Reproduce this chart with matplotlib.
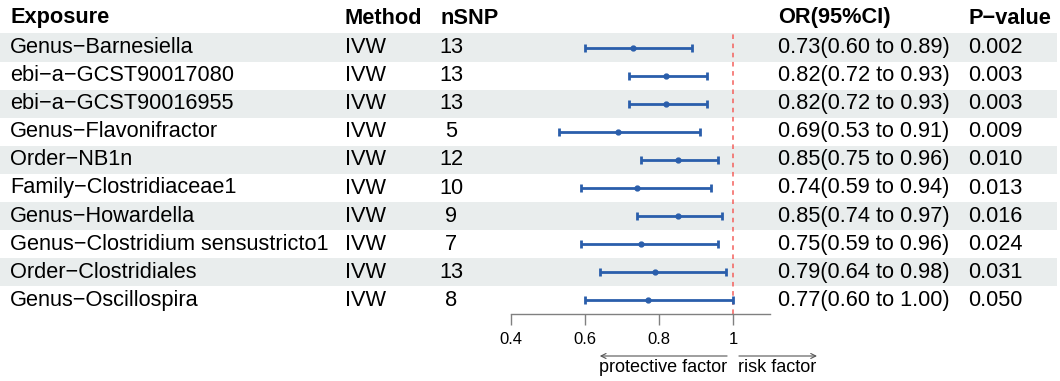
import numpy as np
import matplotlib.pyplot as plt
from matplotlib.patches import Rectangle

plt.rcParams['font.family'] = ['Liberation Sans', 'DejaVu Sans']

# Datos
exposure = ["Genus−Barnesiella", "ebi−a−GCST90017080", "ebi−a−GCST90016955",
            "Genus−Flavonifractor", "Order−NB1n", "Family−Clostridiaceae1",
            "Genus−Howardella", "Genus−Clostridium sensustricto1",
            "Order−Clostridiales", "Genus−Oscillospira"]
method = ["IVW"] * 10
nsnp = [13, 13, 13, 5, 12, 10, 9, 7, 13, 8]
or_val = [0.73, 0.82, 0.82, 0.69, 0.85, 0.74, 0.85, 0.75, 0.79, 0.77]
ci_low = [0.60, 0.72, 0.72, 0.53, 0.75, 0.59, 0.74, 0.59, 0.64, 0.60]
ci_high = [0.89, 0.93, 0.93, 0.91, 0.96, 0.94, 0.97, 0.96, 0.98, 1.00]
pval = ["0.002", "0.003", "0.003", "0.009", "0.010", "0.013", "0.016",
        "0.024", "0.031", "0.050"]
xticks = [0.4, 0.6, 0.8, 1]
xtick_labels = ["0.4", "0.6", "0.8", "1"]

blue = "#2a5eab"
band = "#e9eded"
gris = "#808080"
fs = 15.7

W, H = 1060, 381
fig = plt.figure(figsize=(W / 100, H / 100), dpi=100)

# Fondo en pixeles para la tabla
bg = fig.add_axes([0, 0, 1, 1])
bg.set_xlim(0, W)
bg.set_ylim(H, 0)
bg.axis('off')

row0, dy = 47.5, 28.1
rows = np.arange(len(exposure))
row_y = row0 + dy * rows

for i in rows[::2]:
    bg.add_patch(Rectangle((0, row_y[i] - dy / 2), 1057, dy, color=band, lw=0))

hy = 18
bg.text(10, hy, "Exposure", fontsize=fs, weight='bold', va='center')
bg.text(345, hy, "Method", fontsize=fs, weight='bold', va='center')
bg.text(440, hy, "nSNP", fontsize=fs, weight='bold', va='center')
bg.text(778, hy, "OR(95%CI)", fontsize=fs, weight='bold', va='center')
bg.text(968, hy, "P−value", fontsize=fs, weight='bold', va='center')

for i in rows:
    y = row_y[i]
    bg.text(10, y, exposure[i], fontsize=fs, va='center')
    bg.text(345, y, method[i], fontsize=fs, va='center')
    bg.text(451, y, str(nsnp[i]), fontsize=fs, va='center', ha='center')
    bg.text(778, y, "%.2f(%.2f to %.2f)" % (or_val[i], ci_low[i], ci_high[i]),
            fontsize=fs, va='center')
    bg.text(968, y, pval[i], fontsize=fs, va='center')

# Forest plot
x0, x1 = 511, 770
top = row0 - dy / 2
bot = 314
ax = fig.add_axes([x0 / W, (H - bot) / H, (x1 - x0) / W, (bot - top) / H])
ax.patch.set_alpha(0)
ax.set_xlim(0.4, 1.1)
ax.set_ylim((bot - row0) / dy, -0.5)

ax.axvline(1, color="#f4605c", lw=1.1, ls=(0, (3, 3)), zorder=1)
ax.errorbar(or_val, rows,
            xerr=[np.array(or_val) - np.array(ci_low), np.array(ci_high) - np.array(or_val)],
            fmt='o', color=blue, ms=3.5, elinewidth=2, capsize=3, capthick=2,
            clip_on=False, zorder=3)

for s in ['top', 'right', 'left']:
    ax.spines[s].set_visible(False)
ax.spines['bottom'].set_color(gris)
ax.spines['bottom'].set_linewidth(1)
ax.set_yticks([])
ax.set_xticks(xticks)
ax.set_xticklabels(xtick_labels, fontsize=12)
ax.tick_params(axis='x', length=8, color=gris, width=1, pad=5)

# Flechas
ya = 356
arr = dict(arrowstyle='->', color="#555555", lw=0.8, shrinkA=0, shrinkB=0,
           mutation_scale=9)
ax.annotate('', xy=(0.64, ya), xytext=(0.984, ya),
            xycoords=(ax.transData, bg.transData),
            textcoords=(ax.transData, bg.transData), arrowprops=arr)
ax.annotate('', xy=(1.227, ya), xytext=(1.016, ya),
            xycoords=(ax.transData, bg.transData),
            textcoords=(ax.transData, bg.transData), arrowprops=arr)
ax.annotate('protective factor', xy=(0.812, 368), xycoords=(ax.transData, bg.transData),
            ha='center', va='center', fontsize=13)
ax.annotate('risk factor', xy=(1.12, 368), xycoords=(ax.transData, bg.transData),
            ha='center', va='center', fontsize=13)

plt.savefig("out.png", dpi=100)
